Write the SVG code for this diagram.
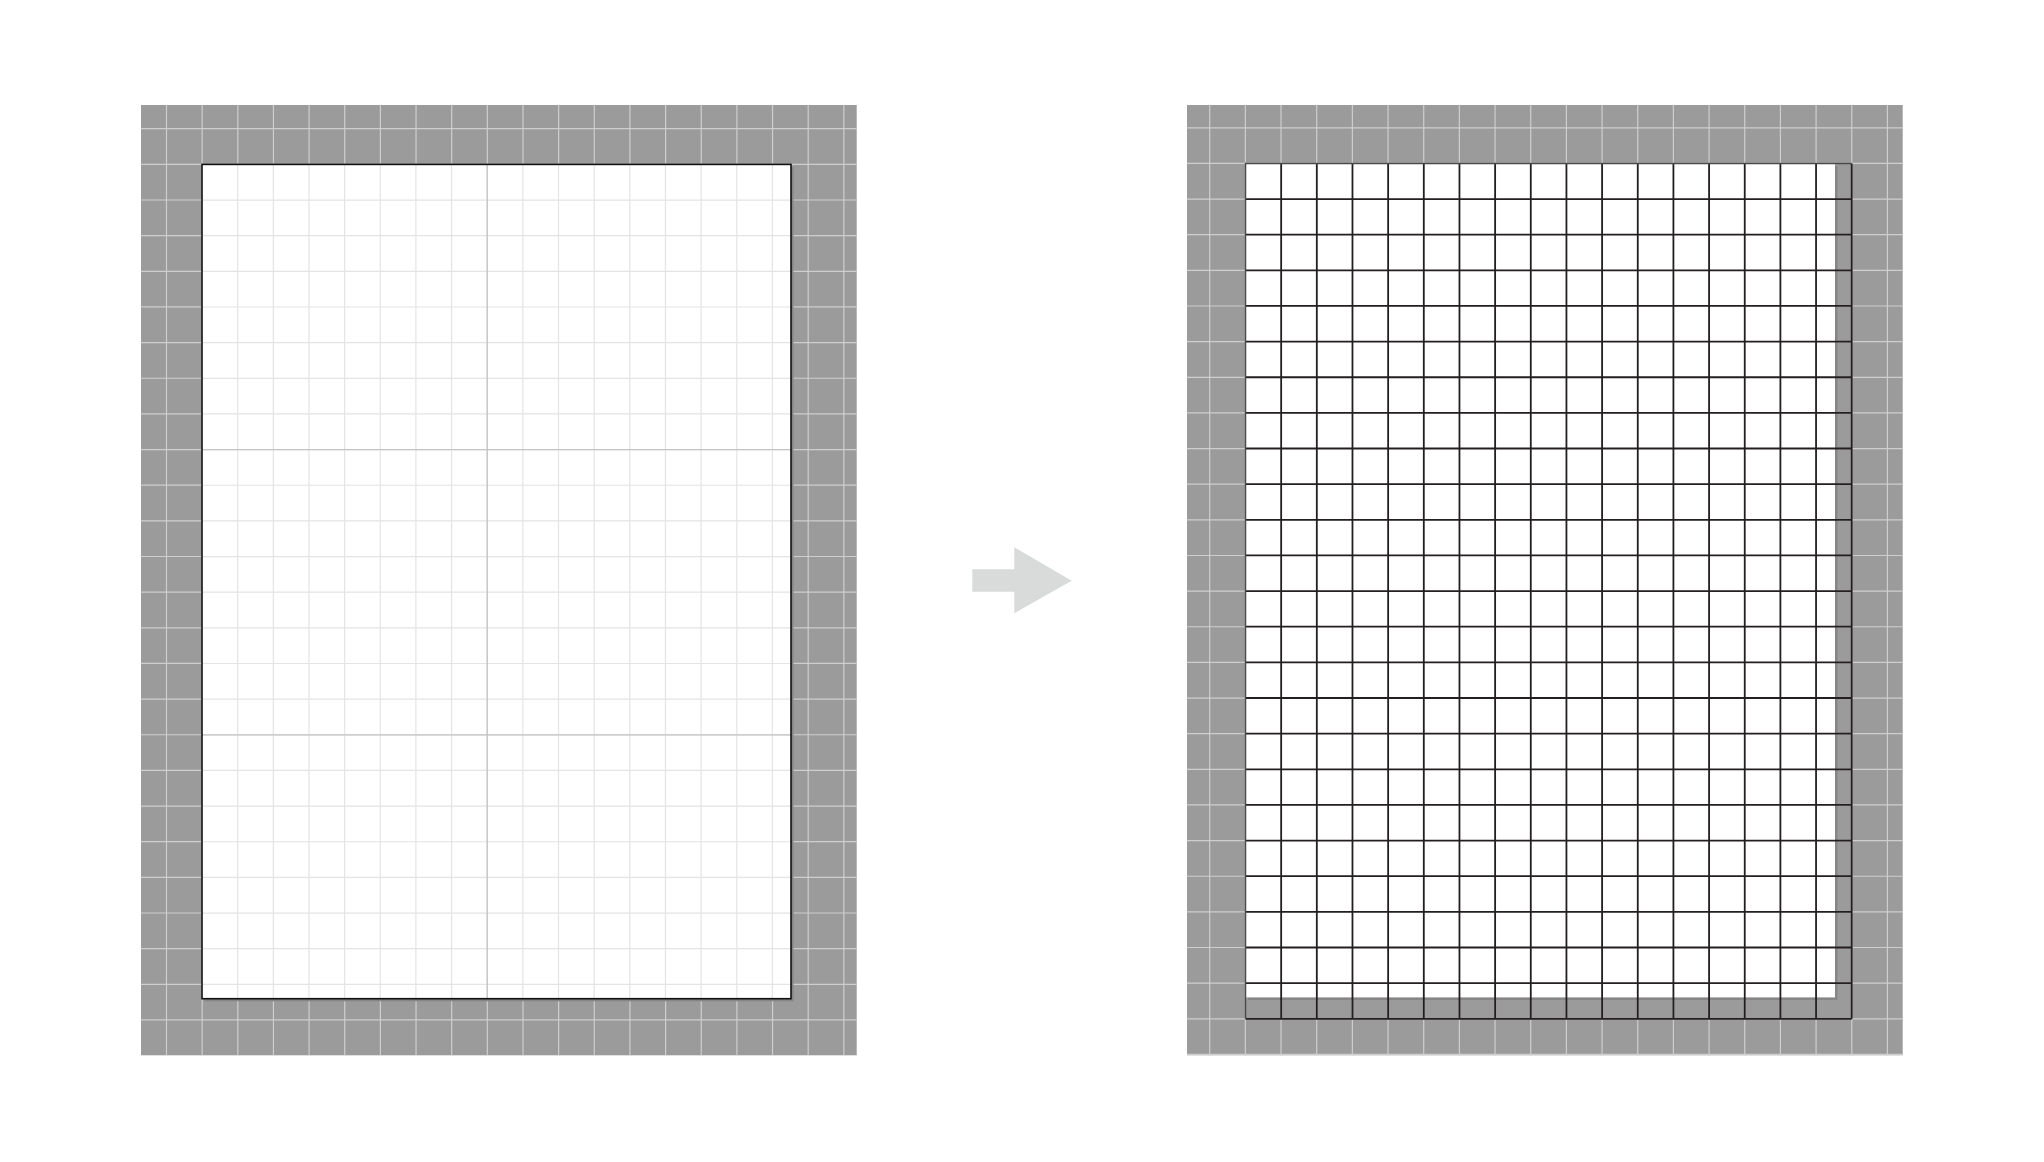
<svg xmlns="http://www.w3.org/2000/svg" width="2044" height="1162" viewBox="0 0 2044 1162">
<style>
.board{fill:#9b9b9b}
.bgrid{fill:none;stroke:#cecece;stroke-width:1.2}
.page{fill:#ffffff}
.shadow{fill:#868686}
.minor{fill:none;stroke:#e4e4e4;stroke-width:1.2}
.major{fill:none;stroke:#c4c4c4;stroke-width:1.3}
.border{fill:none;stroke:#111111;stroke-width:1.6}
.dark{fill:none;stroke:#231f20;stroke-width:1.8}
.arrow{fill:#d9dada}
</style>
<rect width="2044" height="1162" fill="#ffffff"/>
<g id="before">
<rect class="board" x="141" y="105" width="715.7" height="950.3"/>
<path class="bgrid" d="M166.5 105v950.3m35.65-950.3v950.3m35.65-950.3v950.3m35.65-950.3v950.3m35.65-950.3v950.3m35.65-950.3v950.3m35.65-950.3v950.3m35.65-950.3v950.3m35.65-950.3v950.3m35.65-950.3v950.3m35.65-950.3v950.3m35.65-950.3v950.3m35.65-950.3v950.3m35.65-950.3v950.3m35.65-950.3v950.3m35.65-950.3v950.3m35.65-950.3v950.3m35.65-950.3v950.3m35.65-950.3v950.3m35.65-950.3v950.3"/>
<path class="bgrid" d="M141 128.7h715.7m-715.7 35.65h715.7m-715.7 35.65h715.7m-715.7 35.65h715.7m-715.7 35.65h715.7m-715.7 35.65h715.7m-715.7 35.65h715.7m-715.7 35.65h715.7m-715.7 35.65h715.7m-715.7 35.65h715.7m-715.7 35.65h715.7m-715.7 35.65h715.7m-715.7 35.65h715.7m-715.7 35.65h715.7m-715.7 35.65h715.7m-715.7 35.65h715.7m-715.7 35.65h715.7m-715.7 35.65h715.7m-715.7 35.65h715.7m-715.7 35.65h715.7m-715.7 35.65h715.7m-715.7 35.65h715.7m-715.7 35.65h715.7m-715.7 35.65h715.7m-715.7 35.65h715.7m-715.7 35.65h715.7"/>
<rect class="shadow" x="204.5" y="167" width="589" height="834.3"/>
<rect class="page" x="202" y="164.4" width="589" height="834.3"/>
<path class="minor" d="M237.65 164.4v834.3m35.65-834.3v834.3m35.65-834.3v834.3m35.65-834.3v834.3m35.65-834.3v834.3m35.65-834.3v834.3m35.65-834.3v834.3m35.65-834.3v834.3m35.65-834.3v834.3m35.65-834.3v834.3m35.65-834.3v834.3m35.65-834.3v834.3m35.65-834.3v834.3m35.65-834.3v834.3m35.65-834.3v834.3m35.65-834.3v834.3"/>
<path class="minor" d="M202 200.05h589m-589 35.65h589m-589 35.65h589m-589 35.65h589m-589 35.65h589m-589 35.65h589m-589 35.65h589m-589 35.65h589m-589 35.65h589m-589 35.65h589m-589 35.65h589m-589 35.65h589m-589 35.65h589m-589 35.65h589m-589 35.65h589m-589 35.65h589m-589 35.65h589m-589 35.65h589m-589 35.65h589m-589 35.65h589m-589 35.65h589m-589 35.65h589m-589 35.65h589"/>
<path class="major" d="M487.2 164.4v834.3M202 449.6h589M202 734.8h589"/>
<rect class="border" x="202" y="164.4" width="589" height="834.3"/>
</g>
<g id="connectors">
<polygon class="arrow" points="972.3,569.3 1014.3,569.3 1014.3,547.3 1071.7,580.7 1014.3,613.3 1014.3,591.7 972.3,591.7"/>
</g>
<g id="after">
<rect class="board" x="1187" y="105" width="715.7" height="950.3"/>
<path class="bgrid" d="M1209.7 105v950.3m35.67-950.3v950.3m35.67-950.3v950.3m35.67-950.3v950.3m35.67-950.3v950.3m35.67-950.3v950.3m35.67-950.3v950.3m35.67-950.3v950.3m35.67-950.3v950.3m35.67-950.3v950.3m35.67-950.3v950.3m35.67-950.3v950.3m35.67-950.3v950.3m35.67-950.3v950.3m35.67-950.3v950.3m35.67-950.3v950.3m35.67-950.3v950.3m35.67-950.3v950.3m35.67-950.3v950.3m35.67-950.3v950.3"/>
<path class="bgrid" d="M1187 127.8h715.7m-715.7 35.64h715.7m-715.7 35.64h715.7m-715.7 35.64h715.7m-715.7 35.64h715.7m-715.7 35.64h715.7m-715.7 35.64h715.7m-715.7 35.64h715.7m-715.7 35.64h715.7m-715.7 35.64h715.7m-715.7 35.64h715.7m-715.7 35.64h715.7m-715.7 35.64h715.7m-715.7 35.64h715.7m-715.7 35.64h715.7m-715.7 35.64h715.7m-715.7 35.64h715.7m-715.7 35.64h715.7m-715.7 35.64h715.7m-715.7 35.64h715.7m-715.7 35.64h715.7m-715.7 35.64h715.7m-715.7 35.64h715.7m-715.7 35.64h715.7m-715.7 35.64h715.7m-715.7 35.64h715.7m-715.7 35.64h715.7"/>
<rect class="shadow" x="1248" y="166" width="589.5" height="834"/>
<rect class="page" x="1245.5" y="163.4" width="589.5" height="834"/>
<path class="dark" d="M1281.16 163.4v855.4m35.66-855.4v855.4m35.66-855.4v855.4m35.66-855.4v855.4m35.66-855.4v855.4m35.66-855.4v855.4m35.66-855.4v855.4m35.66-855.4v855.4m35.66-855.4v855.4m35.66-855.4v855.4m35.66-855.4v855.4m35.66-855.4v855.4m35.66-855.4v855.4m35.66-855.4v855.4m35.66-855.4v855.4m35.66-855.4v855.4M1851.7 163.4v855.4"/>
<path class="dark" d="M1245.5 199.04h606.2m-606.2 35.64h606.2m-606.2 35.64h606.2m-606.2 35.64h606.2m-606.2 35.64h606.2m-606.2 35.64h606.2m-606.2 35.64h606.2m-606.2 35.64h606.2m-606.2 35.64h606.2m-606.2 35.64h606.2m-606.2 35.64h606.2m-606.2 35.64h606.2m-606.2 35.64h606.2m-606.2 35.64h606.2m-606.2 35.64h606.2m-606.2 35.64h606.2m-606.2 35.64h606.2m-606.2 35.64h606.2m-606.2 35.64h606.2m-606.2 35.64h606.2m-606.2 35.64h606.2m-606.2 35.64h606.2m-606.2 35.64h606.2M1245.5 1018.8h606.2"/>
<path fill="none" stroke="#4a4a4a" stroke-width="1.5" d="M1245.5 1018.8V163.4H1851.7"/>
</g>
</svg>
